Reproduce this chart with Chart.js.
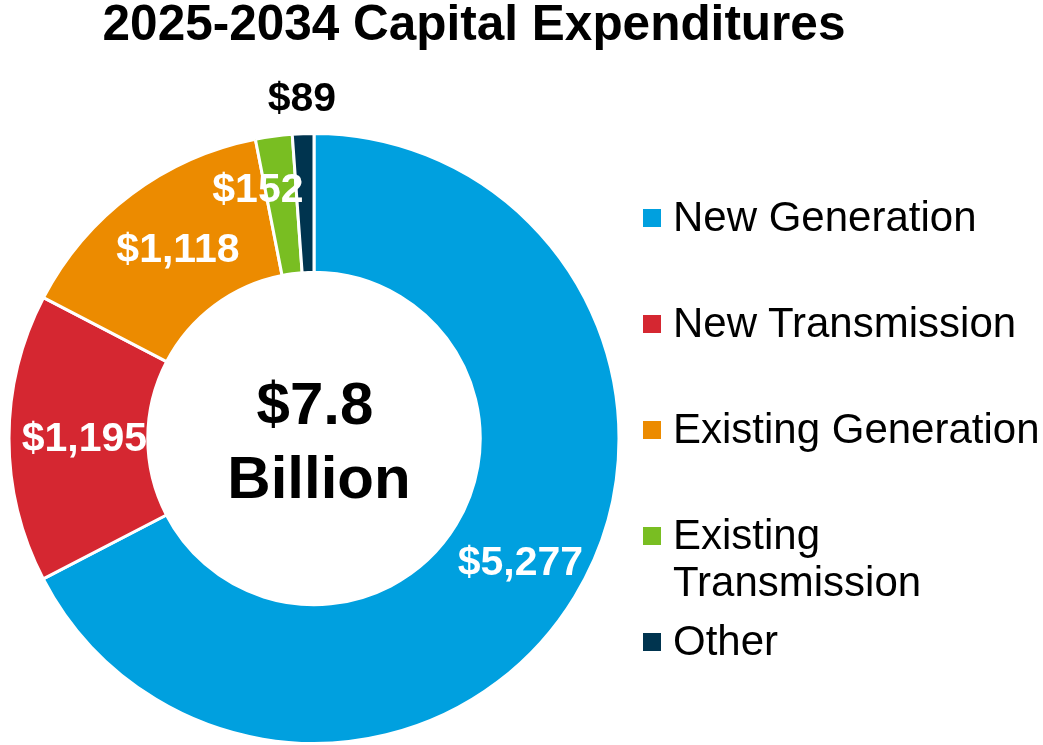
<!DOCTYPE html>
<html lang="en">
<head>
<meta charset="utf-8">
<title>2025-2034 Capital Expenditures</title>
<script src="https://cdn.jsdelivr.net/npm/chart.js@4.4.1/dist/chart.umd.min.js"></script>
<style>
  html, body {
    margin: 0;
    padding: 0;
    background: #fff;
    overflow: hidden;
  }
  #wrap {
    position: relative;
    width: 1043px;
    height: 745px;
  }
  #chartBox {
    position: absolute;
    left: 0;
    top: 0;
    width: 948px;
    height: 745px;
  }
  #legend {
    position: absolute;
    left: 643px;
    top: 193px;
    margin: 0;
    padding: 0;
    list-style: none;
    font-family: "Liberation Sans", Arial, Helvetica, sans-serif;
    font-size: 42px;
    line-height: 47px;
    color: #000;
  }
  #legend li {
    position: relative;
    height: 106px;
    padding-left: 30px;
    width: 372px;
  }
  #legend .swatch {
    position: absolute;
    left: 0;
    top: 16px;
    width: 18px;
    height: 18px;
  }
</style>
</head>
<body>
<div id="wrap">
  <div id="chartBox"><canvas id="capexChart" width="948" height="745"></canvas></div>
  <ul id="legend"></ul>
</div>
<script>
// --- DATA ---
const chartTitle = '2025-2034 Capital Expenditures';
const categories = ['New Generation', 'New Transmission', 'Existing Generation', 'Existing Transmission', 'Other'];
const spendMillions = [5277, 1195, 1118, 152, 89];
const sliceColors = ['#00A0DF', '#D52731', '#EC8B00', '#79BE22', '#00344F'];

// label placement per slice: inside the ring or just outside it
const labelPlacement = ['in', 'in', 'in', 'in', 'out'];
const labelNudge = [[5, 3], [6, 1], [5, 1], [-25, -14], [0, 0]];

const FONT = '"Liberation Sans", Arial, Helvetica, sans-serif';

const formatMoney = v => '$' + v.toLocaleString('en-US');

// --- PLUGINS ---
// title centred on the canvas, independent of the doughnut's padding
const headline = {
  id: 'headline',
  afterDraw(chart) {
    const ctx = chart.ctx;
    ctx.save();
    ctx.font = 'bold 49.5px ' + FONT;
    ctx.fillStyle = '#000';
    ctx.textAlign = 'center';
    ctx.textBaseline = 'middle';
    ctx.fillText(chartTitle, chart.width / 2, 26);
    ctx.restore();
  }
};

const sliceLabels = {
  id: 'sliceLabels',
  afterDatasetsDraw(chart) {
    const ctx = chart.ctx;
    const meta = chart.getDatasetMeta(0);
    const values = chart.data.datasets[0].data;
    ctx.save();
    ctx.font = 'bold 41px ' + FONT;
    ctx.textAlign = 'center';
    ctx.textBaseline = 'middle';
    meta.data.forEach((arc, i) => {
      const p = arc.getProps(['x', 'y', 'startAngle', 'endAngle', 'innerRadius', 'outerRadius'], true);
      const mid = (p.startAngle + p.endAngle) / 2;
      let r, color;
      if (labelPlacement[i] === 'out') {
        r = p.outerRadius + 34;
        color = '#000';
      } else {
        r = (p.innerRadius + p.outerRadius) / 2;
        color = '#fff';
      }
      const [dx, dy] = labelNudge[i];
      ctx.fillStyle = color;
      ctx.fillText(formatMoney(values[i]), p.x + Math.cos(mid) * r + dx, p.y + Math.sin(mid) * r + dy);
    });
    ctx.restore();
  }
};

const centerTotal = {
  id: 'centerTotal',
  afterDatasetsDraw(chart) {
    const ctx = chart.ctx;
    const arc = chart.getDatasetMeta(0).data[0];
    if (!arc) return;
    const total = chart.data.datasets[0].data.reduce((a, b) => a + b, 0);
    ctx.save();
    ctx.font = 'bold 60px ' + FONT;
    ctx.fillStyle = '#000';
    ctx.textAlign = 'center';
    ctx.textBaseline = 'middle';
    ctx.fillText('$' + (total / 1000).toFixed(1), arc.x + 1, arc.y - 31);
    ctx.fillText('Billion', arc.x + 5, arc.y + 43);
    ctx.restore();
  }
};

// --- CHART ---
const chart = new Chart(document.getElementById('capexChart'), {
  type: 'doughnut',
  data: {
    labels: categories,
    datasets: [{
      data: spendMillions,
      backgroundColor: sliceColors,
      borderColor: '#fff',
      borderWidth: 3,
      hoverOffset: 0
    }]
  },
  options: {
    responsive: false,
    animation: false,
    cutout: '54.5%',
    layout: {
      padding: { left: 7, right: 327, top: 132, bottom: 0 }
    },
    plugins: {
      legend: { display: false },
      tooltip: { enabled: false },
      title: { display: false }
    }
  },
  plugins: [headline, sliceLabels, centerTotal]
});

// --- LEGEND ---
const legendEl = document.getElementById('legend');
categories.forEach((name, i) => {
  const li = document.createElement('li');
  const sw = document.createElement('span');
  sw.className = 'swatch';
  sw.style.background = sliceColors[i];
  li.appendChild(sw);
  li.appendChild(document.createTextNode(name));
  legendEl.appendChild(li);
});
</script>
</body>
</html>
